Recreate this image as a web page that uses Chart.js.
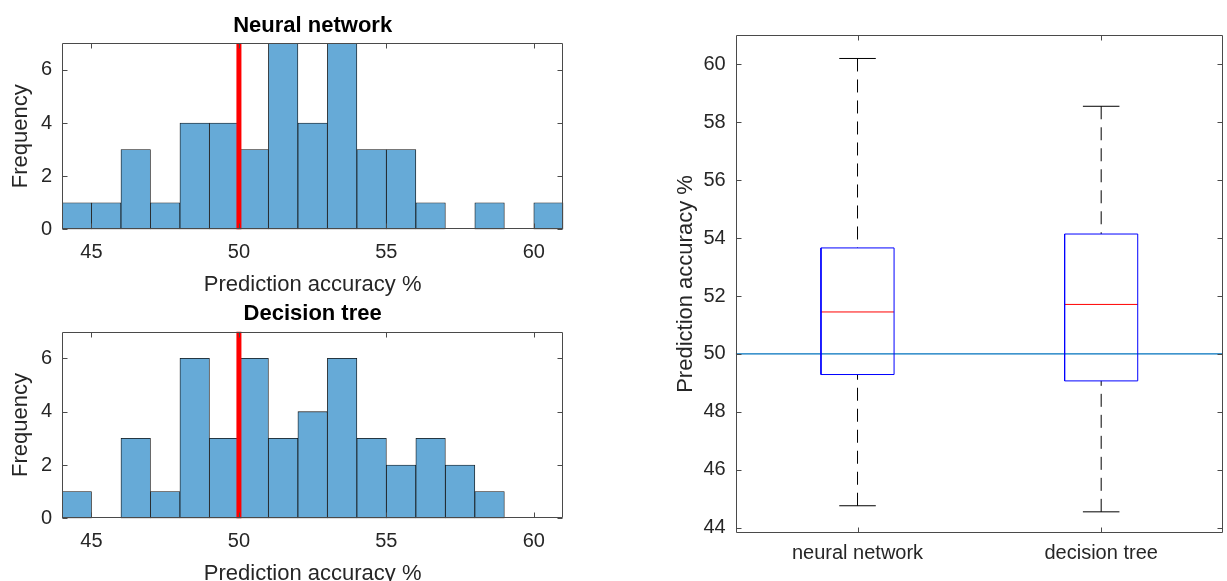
<!DOCTYPE html>
<html>
<head>
<meta charset="utf-8">
<script src="https://cdn.jsdelivr.net/npm/chart.js@4.4.1/dist/chart.umd.min.js"></script>
<style>
  html, body { margin: 0; padding: 0; background: #ffffff; width: 1227px; height: 581px; overflow: hidden; }
  canvas { position: absolute; left: 0; top: 0; }
</style>
</head>
<body>
<canvas id="nnHist" width="1227" height="600"></canvas>
<canvas id="dtHist" width="1227" height="600"></canvas>
<canvas id="boxPlot" width="1227" height="600"></canvas>
<script>
// ---------------- data ----------------
const binEdges = [44, 45, 46, 47, 48, 49, 50, 51, 52, 53, 54, 55, 56, 57, 58, 59, 60, 61];
const nnCounts = [1, 1, 3, 1, 4, 4, 3, 7, 4, 7, 3, 3, 1, 0, 1, 0, 1];
const dtCounts = [1, 0, 3, 1, 6, 3, 6, 3, 4, 6, 3, 2, 3, 2, 1];
const histXTicks = [45, 50, 55, 60];
const histYTicks = [0, 2, 4, 6];
const histXLimits = [44, 61];
const histYLimits = [0, 7];
const chanceLevel = 50;

const boxCategories = ['neural network', 'decision tree'];
const boxLowerWhisker = [44.76, 44.55];
const boxQ1 = [49.29, 49.07];
const boxMedian = [51.45, 51.71];
const boxQ3 = [53.66, 54.14];
const boxUpperWhisker = [60.2, 58.55];
const boxYTicks = [44, 46, 48, 50, 52, 54, 56, 58, 60];
const boxYLimits = [43.83, 61];

// ---------------- styling ----------------
const FONT = "'Liberation Sans', Arial, Helvetica, sans-serif";
Chart.defaults.font.family = FONT;
Chart.defaults.color = '#262626';
const PAGE_W = 1227, CANVAS_H = 600;
const TICK_FONT = 20, LABEL_FONT = 22;

const framePlugin = {
  id: 'matlabFrame',
  afterDraw(chart, args, opts) {
    const { ctx, chartArea: a, scales: { x, y } } = chart;
    const L = Math.round(a.left) + 0.5, R = Math.round(a.right) - 0.5;
    const T = Math.round(a.top) + 0.5, B = Math.round(a.bottom) - 0.5;
    const tl = 5;
    ctx.save();
    ctx.strokeStyle = '#4a4a4a';
    ctx.lineWidth = 1;
    ctx.beginPath();
    ctx.rect(L, T, R - L, B - T);
    x.ticks.forEach(t => {
      const px = Math.round(x.getPixelForValue(t.value)) + 0.5;
      ctx.moveTo(px, B); ctx.lineTo(px, B - tl);
      ctx.moveTo(px, T); ctx.lineTo(px, T + tl);
    });
    y.ticks.forEach(t => {
      const py = Math.round(y.getPixelForValue(t.value)) + 0.5;
      ctx.moveTo(L, py); ctx.lineTo(L + tl, py);
      ctx.moveTo(R, py); ctx.lineTo(R - tl, py);
    });
    ctx.stroke();
    ctx.restore();
  }
};

function histChart(id, title, counts, area, titleCenter) {
  const bars = counts.map((c, i) => ({ x: (binEdges[i] + binEdges[i + 1]) / 2, y: c }));
  const xAxisH = 70;
  const lh = LABEL_FONT * 1.2;
  return new Chart(document.getElementById(id), {
    type: 'bar',
    data: {
      datasets: [
        {
          type: 'line',
          data: [{ x: chanceLevel, y: histYLimits[0] }, { x: chanceLevel, y: histYLimits[1] }],
          borderColor: '#ff0000', borderWidth: 5, pointRadius: 0, order: 0, clip: false
        },
        {
          type: 'bar',
          data: bars,
          backgroundColor: '#66aad7', borderColor: '#111111', borderWidth: 0.8,
          borderSkipped: false, categoryPercentage: 1, barPercentage: 1, order: 1
        }
      ]
    },
    options: {
      responsive: false, animation: false, devicePixelRatio: 1,
      layout: { padding: { left: 0, right: PAGE_W - area.right, top: titleCenter - lh / 2, bottom: CANVAS_H - area.bottom - xAxisH } },
      plugins: {
        legend: { display: false }, tooltip: { enabled: false },
        title: {
          display: true, text: title, fullSize: false, color: '#000000',
          font: { size: LABEL_FONT, weight: 'bold' },
          padding: { top: 0, bottom: area.top - titleCenter - lh / 2 }
        }
      },
      scales: {
        x: {
          type: 'linear', min: histXLimits[0], max: histXLimits[1], offset: false,
          grid: { display: false, drawTicks: false, offset: false }, border: { display: false },
          afterBuildTicks: s => { s.ticks = histXTicks.map(v => ({ value: v })); },
          afterFit: s => { s.height = xAxisH; },
          ticks: { font: { size: TICK_FONT }, padding: 11, maxRotation: 0, autoSkip: false, callback: v => String(v) },
          title: { display: true, text: 'Prediction accuracy %', font: { size: LABEL_FONT }, padding: { top: 0, bottom: 1 } }
        },
        y: {
          type: 'linear', min: histYLimits[0], max: histYLimits[1],
          grid: { display: false, drawTicks: false }, border: { display: false },
          afterBuildTicks: s => { s.ticks = histYTicks.map(v => ({ value: v })); },
          afterFit: s => { s.width = area.left; },
          ticks: { font: { size: TICK_FONT }, padding: 10, callback: v => String(v) },
          title: { display: true, text: 'Frequency', font: { size: LABEL_FONT }, padding: { top: 8, bottom: 0 } }
        }
      }
    },
    plugins: [framePlugin]
  });
}

histChart('nnHist', 'Neural network', nnCounts, { left: 62, right: 563.3, top: 43.3, bottom: 229.3 }, 25.5);
histChart('dtHist', 'Decision tree', dtCounts, { left: 62, right: 563.3, top: 331.7, bottom: 518.3 }, 313.5);

// ---------------- box plot ----------------
const BOX_HALF = 0.15, CAP_HALF = 0.075;
const boxDatasets = [];
boxCategories.forEach((c, i) => {
  const p = i + 1;
  boxDatasets.push({
    data: [{ x: p - BOX_HALF, y: boxQ1[i] }, { x: p + BOX_HALF, y: boxQ1[i] }, { x: p + BOX_HALF, y: boxQ3[i] },
           { x: p - BOX_HALF, y: boxQ3[i] }, { x: p - BOX_HALF, y: boxQ1[i] }],
    borderColor: '#0000ff', borderWidth: 1, borderJoinStyle: 'miter'
  });
  boxDatasets.push({
    data: [{ x: p - BOX_HALF, y: boxMedian[i] }, { x: p + BOX_HALF, y: boxMedian[i] }],
    borderColor: '#ff0000', borderWidth: 1
  });
  boxDatasets.push({
    data: [{ x: p, y: boxUpperWhisker[i] }, { x: p, y: boxQ3[i] }],
    borderColor: '#000000', borderWidth: 1, borderDash: [13, 8]
  });
  boxDatasets.push({
    data: [{ x: p, y: boxLowerWhisker[i] }, { x: p, y: boxQ1[i] }],
    borderColor: '#000000', borderWidth: 1, borderDash: [13, 8]
  });
  boxDatasets.push({
    data: [{ x: p - CAP_HALF, y: boxUpperWhisker[i] }, { x: p + CAP_HALF, y: boxUpperWhisker[i] }],
    borderColor: '#000000', borderWidth: 1
  });
  boxDatasets.push({
    data: [{ x: p - CAP_HALF, y: boxLowerWhisker[i] }, { x: p + CAP_HALF, y: boxLowerWhisker[i] }],
    borderColor: '#000000', borderWidth: 1
  });
});
boxDatasets.push({
  data: [{ x: 0.5, y: chanceLevel }, { x: boxCategories.length + 0.5, y: chanceLevel }],
  borderColor: '#0072bd', borderWidth: 1.3
});
boxDatasets.forEach(d => { d.pointRadius = 0; d.tension = 0; d.fill = false; });

const boxArea = { left: 735.7, right: 1223, top: 35.3, bottom: 532.7 };
new Chart(document.getElementById('boxPlot'), {
  type: 'line',
  data: { datasets: boxDatasets },
  options: {
    responsive: false, animation: false, devicePixelRatio: 1,
    layout: { padding: { left: 640, right: PAGE_W - boxArea.right, top: boxArea.top, bottom: CANVAS_H - boxArea.bottom - 40 } },
    plugins: { legend: { display: false }, tooltip: { enabled: false } },
    scales: {
      x: {
        type: 'linear', min: 0.5, max: boxCategories.length + 0.5,
        grid: { display: false, drawTicks: false }, border: { display: false },
        afterBuildTicks: s => { s.ticks = boxCategories.map((c, i) => ({ value: i + 1 })); },
        afterFit: s => { s.height = 40; },
        ticks: { font: { size: TICK_FONT }, padding: 9, maxRotation: 0, autoSkip: false,
                 callback: v => boxCategories[Math.round(v) - 1] }
      },
      y: {
        type: 'linear', min: boxYLimits[0], max: boxYLimits[1],
        grid: { display: false, drawTicks: false }, border: { display: false },
        afterBuildTicks: s => { s.ticks = boxYTicks.map(v => ({ value: v })); },
        afterFit: s => { s.width = boxArea.left - 640; },
        ticks: { font: { size: TICK_FONT }, padding: 10, callback: v => String(v) },
        title: { display: true, text: 'Prediction accuracy %', font: { size: LABEL_FONT }, padding: { top: 33, bottom: 0 } }
      }
    }
  },
  plugins: [framePlugin]
});
</script>
</body>
</html>
